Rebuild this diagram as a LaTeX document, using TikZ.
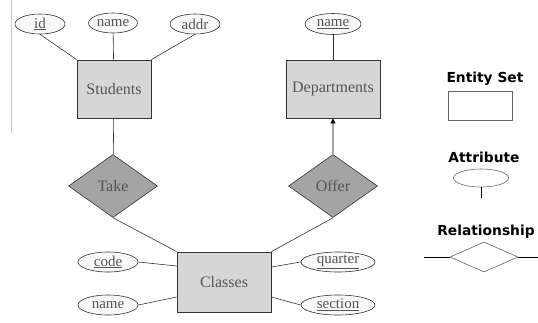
\documentclass[tikz,border=0pt]{standalone}
\usepackage{fontspec}
\setmainfont{Liberation Serif}
\newfontfamily\legendfont{DejaVu Sans}
\usetikzlibrary{shapes.geometric,arrows.meta}
\definecolor{txtgray}{HTML}{555555}
\definecolor{boxgray}{HTML}{D6D6D6}
\definecolor{relgray}{HTML}{A4A4A4}
\definecolor{ellfill}{HTML}{F8F8F8}
\definecolor{edgegray}{HTML}{333333}
\definecolor{sidegray}{HTML}{C4C4C4}
\begin{document}
\begin{tikzpicture}[x=1pt,y=-1pt,
  entity/.style={draw=edgegray,line width=0.9pt,fill=boxgray,minimum width=74pt,minimum height=58pt,inner sep=0pt,text=txtgray,font=\fontsize{16}{18}\selectfont},
  rel/.style={diamond,draw=edgegray,line width=0.6pt,fill=relgray,minimum width=89pt,minimum height=63pt,inner sep=0pt,text=txtgray,font=\fontsize{16}{18}\selectfont},
  attr/.style={ellipse,draw=edgegray,line width=0.6pt,fill=ellfill,inner sep=0pt,text=txtgray,font=\fontsize{15}{17}\selectfont},
  conn/.style={draw=edgegray,line width=0.6pt},
  legendtitle/.style={font=\legendfont\bfseries\fontsize{13.8}{16}\selectfont,text=black},
  legendshape/.style={draw=black!60,line width=0.6pt,fill=white,inner sep=0pt}
]
\useasboundingbox (0,0) rectangle (538,322);
\draw[sidegray,line width=1pt] (11,0) -- (11,133);

% entities
\node[entity] (stu) at (114,89) {Students};
\node[entity,minimum width=94pt] (dep) at (333,89) {Departments};
\node[entity,minimum width=94pt,minimum height=60pt] (cls) at (224,282) {Classes};

% relationships
\node[rel] (take) at (113,186) {Take};
\node[rel] (offer) at (333,186) {Offer};

% attributes
\node[attr,minimum width=50pt,minimum height=20pt] (id) at (40,24) {\underline{id}};
\node[attr,minimum width=49pt,minimum height=20pt] (sname) at (113,23) {name};
\node[attr,minimum width=50pt,minimum height=20pt] (addr) at (195,24) {addr};
\node[attr,minimum width=56pt,minimum height=21pt] (dname) at (333,24) {\underline{name}};
\node[attr,minimum width=60pt,minimum height=20pt] (code) at (108,262) {\underline{code}};
\node[attr,minimum width=60pt,minimum height=20pt] (cname) at (108,305) {name};
\node[attr,minimum width=74pt,minimum height=20pt] (quarter) at (338,262) {\underline{quarter}};
\node[attr,minimum width=74pt,minimum height=20pt] (section) at (338,305) {\underline{section}};

% connectors
\draw[conn] (id.south) -- (stu.north west);
\draw[conn] (sname) -- (stu);
\draw[conn] (addr.south) -- (stu.north east);
\draw[conn] (dname) -- (dep);
\draw[conn] (stu) -- (take);
\draw[conn] (take.south) -- (cls.north west);
\draw[conn] (offer.south) -- (cls.north east);
\draw[draw=black!35,line width=1.4pt,-{Triangle[length=5pt,width=5pt,color=black]}] (offer.north) -- (dep.south);
\draw[conn] (code.east) -- ([yshift=16pt]cls.west);
\draw[conn] (cname.east) -- ([yshift=-15pt]cls.west);
\draw[conn] (quarter.west) -- ([yshift=15pt]cls.east);
\draw[conn] (section.west) -- ([yshift=-15pt]cls.east);

% legend
\node[legendtitle] (lent) at (485,79) {Entity Set};
\node[legendshape,minimum width=64pt,minimum height=29pt] (lbox) at (480,106) {};
\node[legendtitle] (latt) at (484,157) {Attribute};
\node[legendshape,ellipse,minimum width=55pt,minimum height=18pt] (lell) at (481,178) {};
\coordinate (lellend) at (481,198);
\draw[black,line width=0.8pt] (lell.south) -- (lellend);
\node[legendtitle] (lrel) at (486,232) {Relationship};
\node[legendshape,diamond,minimum width=68pt,minimum height=30pt] (ldia) at (484,257) {};
\coordinate (lrelL) at (424,257);
\coordinate (lrelR) at (538,257);
\draw[black,line width=0.8pt] (lrelL) -- (ldia.west);
\draw[black,line width=0.8pt] (ldia.east) -- (lrelR);
\end{tikzpicture}
\end{document}
